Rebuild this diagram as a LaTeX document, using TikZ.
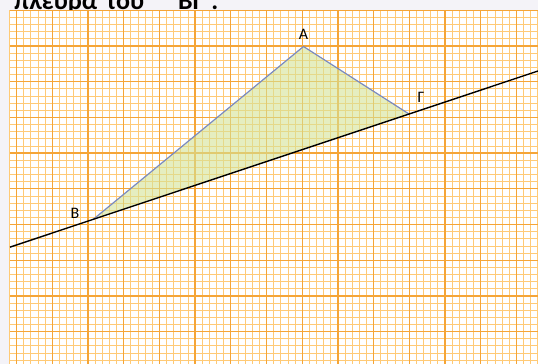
\documentclass[tikz,border=0pt]{standalone}
\usepackage{fontspec}
\setmainfont{Carlito}
\definecolor{gridminor}{RGB}{255,202,118}
\definecolor{gridmajor}{RGB}{245,165,55}
\definecolor{edgeblue}{RGB}{122,138,192}
\definecolor{trifill}{RGB}{213,227,150}
\definecolor{pagebg}{RGB}{244,243,248}
\tikzset{
  minorline/.style={gridminor,line width=0.8pt},
  majorline/.style={gridmajor,line width=1.3pt},
  vertlabel/.style={font=\fontsize{16}{16}\selectfont,inner sep=0pt}
}

\begin{document}
\begin{tikzpicture}[x=1pt,y=-1pt]
  \fill[pagebg] (0,0) rectangle (538,364);
  \useasboundingbox (0,0) rectangle (538,364);
  \node[font=\fontsize{26}{26}\selectfont\bfseries,anchor=base west,inner sep=0pt] (title) at (14,9.5)
    {πλευρά\hspace{3pt} του\hspace{28pt} ΒΓ\hspace{8pt}.};
  \fill[white] (10,10) rectangle (538,364);
  % grid paper
  \foreach \i in {0,...,74}
    \draw[minorline] ({9.46+7.14*\i},10) -- ++(0,354);
  \foreach \j in {0,...,49}
    \draw[minorline] (10,{10.3+7.14*\j}) -- ++(528,0);
  \foreach \i in {0,...,14}
    \draw[majorline] ({16.6+35.7*\i},10) -- ++(0,354);
  \foreach \j in {0,...,9}
    \draw[majorline] (10,{10.3+35.7*\j}) -- ++(528,0);
  % triangle
  \coordinate (A) at (303.5,46.5);
  \coordinate (B) at (93.3,219.3);
  \coordinate (G) at (409,114);
  \coordinate (lineL) at (10,247.1);
  \coordinate (lineR) at (538,71);
  \fill[trifill,fill opacity=0.6] (A) -- (B) -- (G) -- cycle;
  \draw[edgeblue,line width=1.2pt] (B) -- (A) -- (G);
  \draw[line width=1.4pt] (lineL) -- (lineR);
    \node[vertlabel] (labA) at (303.5,34) {Α};
    \node[vertlabel] (labB) at (75,213) {Β};
    \node[vertlabel] (labG) at (421,97) {Γ};
\end{tikzpicture}
\end{document}
